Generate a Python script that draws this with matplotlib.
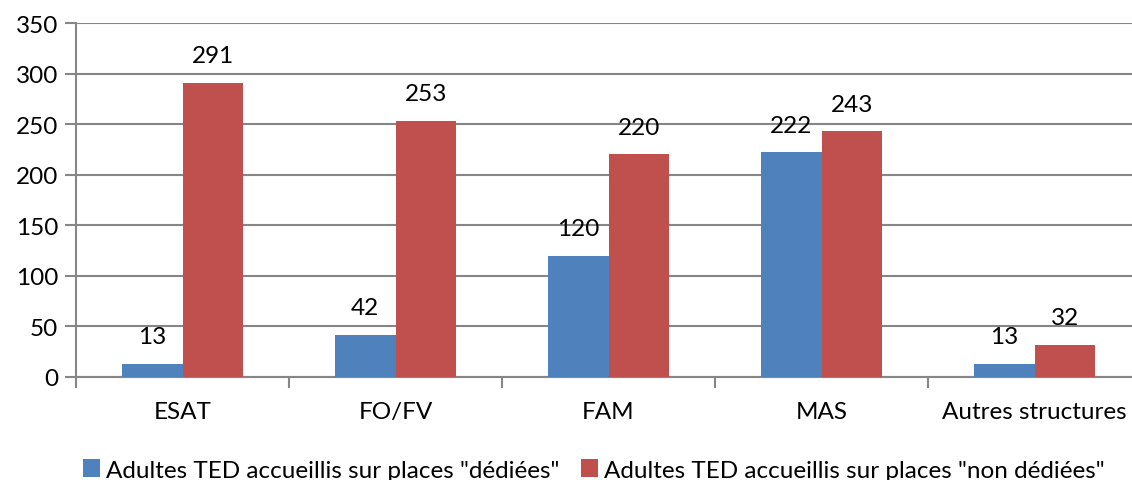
import matplotlib
matplotlib.use("Agg")
import matplotlib.pyplot as plt
import numpy as np

categories = ["ESAT", "FO/FV", "FAM", "MAS", "Autres structures"]
dediees = [13, 42, 120, 222, 13]
non_dediees = [291, 253, 220, 243, 32]
series_names = ['Adultes TED accueillis sur places "dédiées"',
                'Adultes TED accueillis sur places "non dédiées"']

plt.rcParams['font.family'] = ['Lato', 'DejaVu Sans']
fs = 17.5

fig = plt.figure(figsize=(11.32, 4.81), dpi=100)
# right edge of the plot area sits just past the picture edge
ax = fig.add_axes([76 / 1132, 1 - 378 / 481, (1141 - 76) / 1132, (378 - 24) / 481])

x = np.arange(len(categories))
w = 0.286
blue = "#4F81BD"
red = "#C0504D"
b1 = ax.bar(x - w / 2, dediees, w, color=blue, label=series_names[0], zorder=3)
b2 = ax.bar(x + w / 2, non_dediees, w, color=red, label=series_names[1], zorder=3)

for bars, vals in ((b1, dediees), (b2, non_dediees)):
    for bar, v in zip(bars, vals):
        ax.annotate(str(v), (bar.get_x() + bar.get_width() / 2, v),
                    xytext=(0, 12), textcoords="offset points",
                    ha="center", va="bottom", fontsize=fs, color="black")

ax.set_ylim(0, 350)
ax.set_yticks(range(0, 351, 50))
ax.set_xlim(-0.5, len(categories) - 0.5)
ax.set_xticks(x)
ax.set_xticklabels(categories, fontsize=fs)
ax.set_xticks(np.arange(-0.5, len(categories), 1), minor=True)
ax.tick_params(axis="x", which="major", length=0, pad=17)
ax.tick_params(axis="x", which="minor", length=8, width=1.5, color="#868686")
ax.tick_params(axis="y", length=8, width=1.5, color="#868686", labelsize=fs, pad=5)

ax.grid(axis="y", color="#868686", linewidth=1.5, zorder=0)
ax.set_axisbelow(True)
for s in ("top", "right"):
    ax.spines[s].set_visible(False)
for s in ("left", "bottom"):
    ax.spines[s].set_color("#868686")
    ax.spines[s].set_linewidth(1.5)

fig.legend(handles=[b1, b2], loc="center", bbox_to_anchor=(594 / 1132, 1 - 471 / 481),
           ncol=2, frameon=False, fontsize=fs, handlelength=0.7, handleheight=0.7,
           handletextpad=0.25, columnspacing=0.9)

fig.savefig("out.png", dpi=100)
